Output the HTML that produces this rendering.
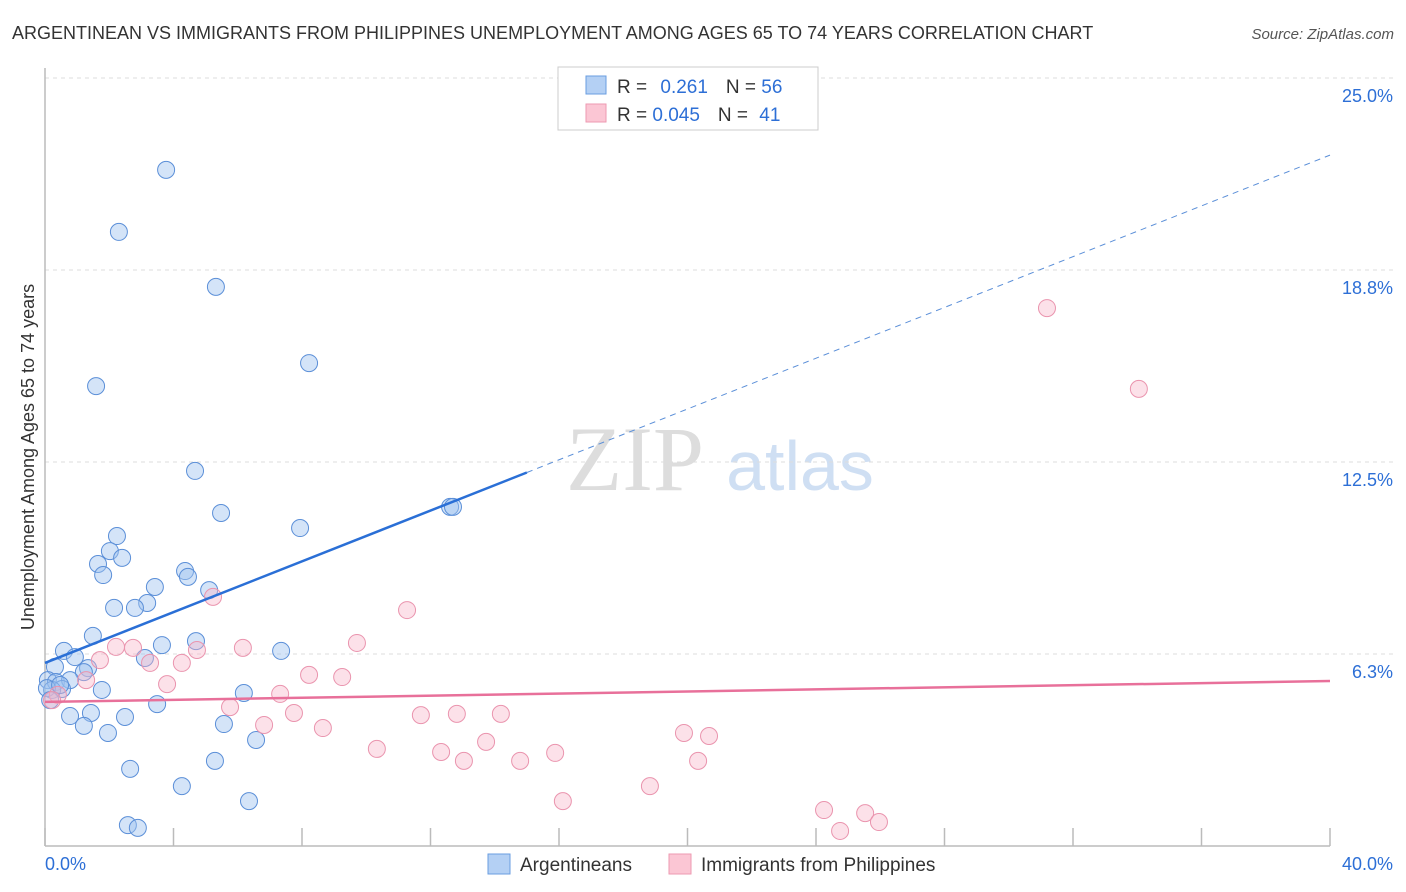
<!DOCTYPE html>
<html><head><meta charset="utf-8"><style>
body{margin:0;background:#fff;font-family:"Liberation Sans",sans-serif;}
svg{display:block}
</style></head><body>
<svg id="chart" width="1406" height="892" xmlns="http://www.w3.org/2000/svg">
<text x="12" y="39" font-size="18" fill="#333">ARGENTINEAN VS IMMIGRANTS FROM PHILIPPINES UNEMPLOYMENT AMONG AGES 65 TO 74 YEARS CORRELATION CHART</text>
<text x="1394" y="39" font-size="15" fill="#555" text-anchor="end" font-style="italic">Source: ZipAtlas.com</text>
<g>
<text x="635" y="490" font-size="92" fill="#ddd" text-anchor="middle" font-family="Liberation Serif,serif">ZIP</text>
<text x="800" y="490" font-size="70" fill="#cfdff3" text-anchor="middle">atlas</text>
</g>
<g id="grid"></g>
<g id="axes"></g>
<g id="pts"></g>
<g id="trends"></g>
<text transform="translate(34,457) rotate(-90)" font-size="18" fill="#333" text-anchor="middle">Unemployment Among Ages 65 to 74 years</text>
<g>
<rect x="558" y="67" width="260" height="63" fill="#fff" stroke="#ccc"/>
<rect x="586" y="76" width="20" height="18" fill="#b4d0f4" stroke="#6a9ee0"/>
<rect x="586" y="104" width="20" height="18" fill="#fbc6d4" stroke="#ee9ab2"/>
<text x="617" y="93" font-size="19" fill="#333">R = <tspan fill="#2d6fd6" dx="8">0.261</tspan><tspan dx="18" fill="#333">N = </tspan><tspan fill="#2d6fd6">56</tspan></text>
<text x="617" y="121" font-size="19" fill="#333">R = <tspan fill="#2d6fd6">0.045</tspan><tspan dx="18" fill="#333">N = </tspan><tspan fill="#2d6fd6" dx="6">41</tspan></text>
</g>
<g>
<rect x="488" y="854" width="22" height="20" fill="#b4d0f4" stroke="#6a9ee0"/>
<text x="520" y="871" font-size="19" fill="#333">Argentineans</text>
<rect x="669" y="854" width="22" height="20" fill="#fbc6d4" stroke="#ee9ab2"/>
<text x="701" y="871" font-size="19" fill="#333">Immigrants from Philippines</text>
</g>
</svg>
<script>
const blueX=[3.77,2.30,5.32,1.59,8.22,4.67,5.48,7.94,12.61,12.70,2.24,2.02,2.40,1.65,1.81,4.36,4.45,3.42,5.11,3.18,2.15,2.80,1.49,3.64,4.70,7.35,0.59,0.93,3.11,0.31,1.34,1.21,0.09,0.34,0.78,0.53,0.22,0.06,1.77,6.19,3.49,1.43,0.78,2.49,1.21,1.96,5.57,6.57,5.29,2.65,4.26,6.35,2.58,2.89,0.16,0.47];
const blueY=[22.01,19.99,18.20,14.97,15.72,12.21,10.84,10.35,11.04,11.04,10.09,9.60,9.38,9.18,8.82,8.95,8.76,8.43,8.33,7.91,7.75,7.75,6.84,6.54,6.67,6.35,6.35,6.15,6.12,5.83,5.79,5.66,5.40,5.34,5.40,5.11,5.08,5.14,5.08,4.98,4.62,4.33,4.23,4.20,3.91,3.68,3.97,3.45,2.77,2.51,1.95,1.46,0.68,0.59,4.75,5.24];
const pinkX=[31.19,34.05,5.23,11.27,9.71,2.21,2.74,6.16,4.73,1.71,3.27,4.26,8.22,9.25,1.28,3.80,7.32,0.40,0.22,5.76,7.75,11.70,12.82,14.19,6.82,8.65,13.73,10.33,12.33,15.88,13.04,14.79,19.89,20.67,20.33,18.83,16.12,24.25,25.53,24.75,25.96];
const pinkY=[17.51,14.88,8.11,7.68,6.61,6.48,6.45,6.45,6.38,6.05,5.96,5.96,5.57,5.50,5.40,5.27,4.95,4.92,4.75,4.52,4.33,4.26,4.30,4.30,3.94,3.84,3.39,3.16,3.06,3.03,2.77,2.77,3.68,3.58,2.77,1.95,1.46,1.17,1.07,0.49,0.78];
const yTicks=[6.25,12.5,18.75,25];
const yTickLabels=["6.3%","12.5%","18.8%","25.0%"];
const xTicks=[0,4,8,12,16,20,24,28,32,36,40];
const blueTrend=[5.96,22.49];const blueSolidEnd=15;
const pinkTrend=[4.69,5.37];
const NS="http://www.w3.org/2000/svg";
const X=v=>45+v/40*1285, Y=v=>846-v/25*768;
function mk(tag,attrs,parent){const e=document.createElementNS(NS,tag);for(const k in attrs)e.setAttribute(k,attrs[k]);parent.appendChild(e);return e;}
const grid=document.getElementById('grid'),axes=document.getElementById('axes'),pts=document.getElementById('pts'),tr=document.getElementById('trends');
yTicks.forEach((t,i)=>{const l=mk('line',{x1:45,x2:1395,y1:Y(t),y2:Y(t),stroke:'#ddd','stroke-dasharray':'4,4'},grid);


const tx=mk('text',{x:1393,y:Y(t)+24,'font-size':18,fill:'#2d6fd6','text-anchor':'end'},grid);tx.textContent=yTickLabels[i];

});
const al=mk('line',{x1:45,x2:45,y1:68,y2:846,stroke:'#bbb','stroke-width':1.5},axes);


const bl=mk('line',{x1:45,x2:1330,y1:846,y2:846,stroke:'#bbb','stroke-width':1.5},axes);


xTicks.forEach(t=>{const l=mk('line',{x1:X(t),x2:X(t),y1:828,y2:846,stroke:'#bbb','stroke-width':1.5},axes);

});
const xl0=mk('text',{x:45,y:870,'font-size':18,fill:'#2d6fd6'},axes);xl0.textContent='0.0%';


const xl1=mk('text',{x:1393,y:870,'font-size':18,fill:'#2d6fd6','text-anchor':'end'},axes);xl1.textContent='40.0%';


blueX.forEach((v,i)=>{const c=mk('circle',{cx:X(v),cy:Y(blueY[i]),r:8.5,fill:'rgba(160,196,240,0.45)',stroke:'#5b8fd8','stroke-width':1},pts);

});
pinkX.forEach((v,i)=>{const c=mk('circle',{cx:X(v),cy:Y(pinkY[i]),r:8.5,fill:'rgba(248,180,200,0.4)',stroke:'#ea94ae','stroke-width':1},pts);

});
const bAt=x=>blueTrend[0]+(blueTrend[1]-blueTrend[0])*x/40;
const b1=mk('line',{x1:X(0),y1:Y(bAt(0)),x2:X(blueSolidEnd),y2:Y(bAt(blueSolidEnd)),stroke:'#2a6fd6','stroke-width':2.5},tr);


const b2=mk('line',{x1:X(blueSolidEnd),y1:Y(bAt(blueSolidEnd)),x2:X(40),y2:Y(bAt(40)),stroke:'#5b8fd8','stroke-width':1,'stroke-dasharray':'6,5'},tr);


const p1=mk('line',{x1:X(0),y1:Y(pinkTrend[0]),x2:X(40),y2:Y(pinkTrend[1]),stroke:'#e8709a','stroke-width':2.5},tr);


</script>
</body></html>
